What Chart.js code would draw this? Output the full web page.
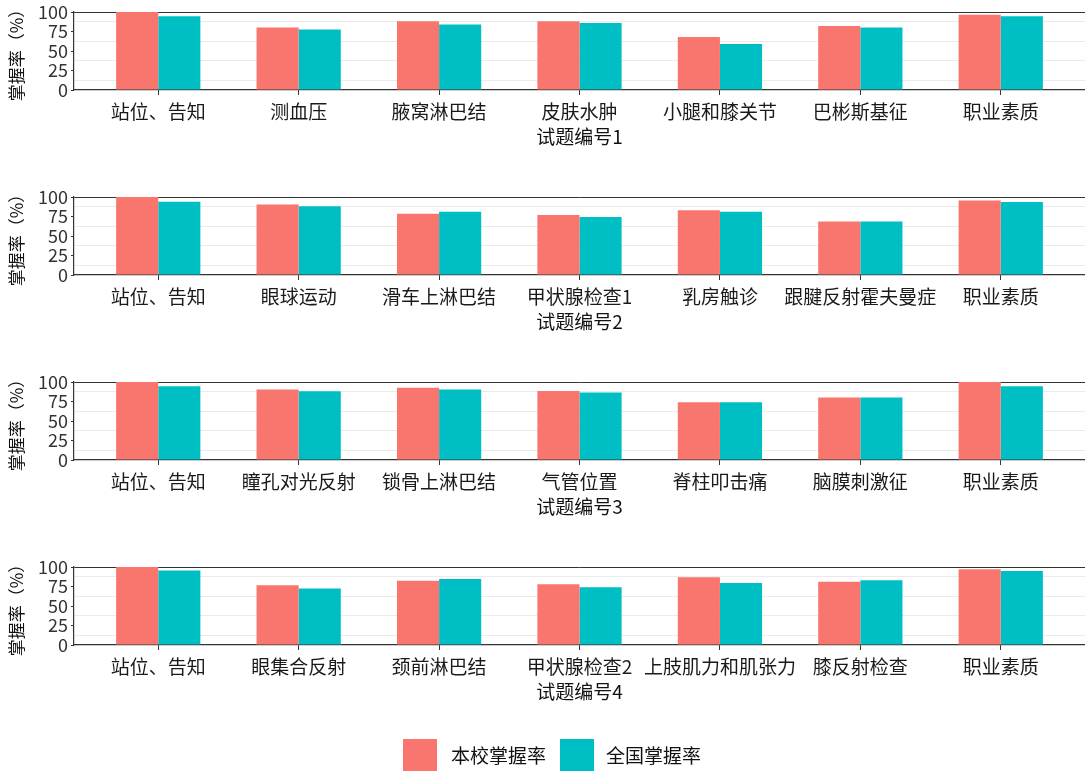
<!DOCTYPE html>
<html>
<head>
<meta charset="utf-8">
<script src="https://cdn.jsdelivr.net/npm/chart.js@4.4.1/dist/chart.umd.min.js"></script>
<style>
body{margin:0;background:#fff;font-family:"Noto Sans CJK SC",sans-serif;}
.panel{position:absolute;left:0;}
#legend{position:absolute;left:0;top:739px;width:1085px;height:34px;}
.box{position:absolute;top:0;width:34px;height:34px;}
.lab{position:absolute;top:5px;font-size:19px;line-height:22px;color:#111;}
</style>
</head>
<body>
<canvas id="p1" class="panel" style="top:0" width="1085" height="185"></canvas>
<canvas id="p2" class="panel" style="top:185px" width="1085" height="185"></canvas>
<canvas id="p3" class="panel" style="top:370px" width="1085" height="185"></canvas>
<canvas id="p4" class="panel" style="top:555px" width="1085" height="185"></canvas>
<div id="legend">
  <div class="box" style="left:403px;background:#F8766D"></div>
  <div class="lab" style="left:451px">本校掌握率</div>
  <div class="box" style="left:560px;background:#00BFC4"></div>
  <div class="lab" style="left:606px">全国掌握率</div>
</div>
<script>
var seriesNames = ["本校掌握率", "全国掌握率"];
var barColors = ["#F8766D", "#00BFC4"];
var yTicks = [0, 12.5, 25, 37.5, 50, 62.5, 75, 87.5, 100];

var cats1 = ["站位、告知", "测血压", "腋窝淋巴结", "皮肤水肿", "小腿和膝关节", "巴彬斯基征", "职业素质"];
var school1 = [100, 80, 88, 88, 68, 82, 96.5];
var nation1 = [94.5, 77.5, 84, 86, 59, 80, 94.5];

var cats2 = ["站位、告知", "眼球运动", "滑车上淋巴结", "甲状腺检查1", "乳房触诊", "跟腱反射霍夫曼症", "职业素质"];
var school2 = [100, 90.5, 78.5, 77, 83, 68.5, 95.5];
var nation2 = [94, 88, 81, 74.5, 81, 68.5, 93.5];

var cats3 = ["站位、告知", "瞳孔对光反射", "锁骨上淋巴结", "气管位置", "脊柱叩击痛", "脑膜刺激征", "职业素质"];
var school3 = [100, 90.5, 92.5, 88.5, 74, 80, 100];
var nation3 = [94.5, 88, 90.5, 86.5, 74, 80, 94.5];

var cats4 = ["站位、告知", "眼集合反射", "颈前淋巴结", "甲状腺检查2", "上肢肌力和肌张力", "膝反射检查", "职业素质"];
var school4 = [100, 76.5, 82.5, 78, 87, 81, 97];
var nation4 = [95.5, 72.5, 84.5, 74, 79.5, 83, 95];

Chart.defaults.font.family = '"Noto Sans CJK SC", sans-serif';

function points(vals){
  return vals.map(function(v, i){ return {x: i, y: v} })
}

function drawPanel(id, cats, school, nation, title){
  new Chart(id, {
    type: "bar",
    data: {
      datasets: [
        {label: seriesNames[0], backgroundColor: barColors[0], borderWidth: 0, data: points(school)},
        {label: seriesNames[1], backgroundColor: barColors[1], borderWidth: 0, data: points(nation)}
      ]
    },
    options: {
      responsive: false,
      animation: false,
      layout: {padding: {top: 11, left: 0, right: 0, bottom: 37}},
      plugins: {legend: {display: false}, tooltip: {enabled: false}},
      datasets: {bar: {categoryPercentage: 0.6, barPercentage: 1}},
      scales: {
        x: {
          type: "linear", min: -0.6, max: 6.6, offset: false,
          afterBuildTicks: function(s){ s.ticks = cats.map(function(c, i){ return {value: i} }) },
          afterFit: function(s){ s.height = 58 },
          ticks: {autoSkip: false, maxRotation: 0, padding: 5, color: "#1a1a1a", font: {size: 19},
            callback: function(v){ return cats[v] }},
          grid: {offset: false, drawOnChartArea: false, tickLength: 5, color: "#333", lineWidth: 1},
          border: {color: "#333", width: 1.2},
          title: {display: true, text: title, color: "#111", font: {size: 19}, padding: {top: 0, bottom: 0}}
        },
        y: {
          min: 0, max: 100,
          afterBuildTicks: function(s){ s.ticks = yTicks.map(function(v){ return {value: v} }) },
          afterFit: function(s){ s.width = 74 },
          ticks: {autoSkip: false, padding: 3, color: "#333", font: {size: 18, lineHeight: 1},
            callback: function(v){ return v % 25 === 0 ? v : "" }},
          grid: {
            tickLength: 3,
            color: function(c){
              var v = c.tick ? c.tick.value : 0;
              if (v === 100) return "#333";
              return v % 25 === 0 ? "rgba(0,0,0,0)" : "#ebebeb";
            },
            tickColor: function(c){
              var v = c.tick ? c.tick.value : 0;
              return v % 25 === 0 ? "#333" : "rgba(0,0,0,0)";
            }
          },
          border: {color: "#333", width: 1.2},
          title: {display: true, text: "掌握率（%）", color: "#111", font: {size: 17}, padding: {top: 6, bottom: 0}}
        }
      }
    }
  });
}

drawPanel("p1", cats1, school1, nation1, "试题编号1");
drawPanel("p2", cats2, school2, nation2, "试题编号2");
drawPanel("p3", cats3, school3, nation3, "试题编号3");
drawPanel("p4", cats4, school4, nation4, "试题编号4");
</script>
</body>
</html>
